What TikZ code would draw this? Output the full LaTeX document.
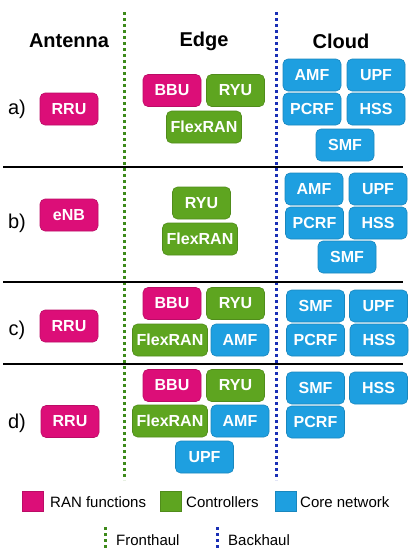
\documentclass[tikz,border=0pt]{standalone}
\usepackage{fontspec}
\setmainfont{Liberation Sans}
\definecolor{ran}{HTML}{DC0E78}
\definecolor{ctl}{HTML}{5EA520}
\definecolor{core}{HTML}{1E9FE0}
\definecolor{fh}{HTML}{3D8A1A}
\definecolor{bh}{HTML}{1A2FB5}
\tikzset{
  fn/.style={rounded corners=5pt, minimum height=32pt, minimum width=58pt, inner sep=0pt,
    text=white, font=\fontsize{16}{16}\selectfont\bfseries},
  ranbox/.style={fn, fill=ran, draw=ran!85!black, line width=0.6pt},
  ctlbox/.style={fn, fill=ctl, draw=ctl!85!black, line width=0.6pt},
  corebox/.style={fn, fill=core, draw=core!85!black, line width=0.6pt},
  wide/.style={minimum width=75pt},
  head/.style={font=\fontsize{20}{20}\selectfont\bfseries},
  rowlab/.style={font=\fontsize{20}{20}\selectfont},
  legtxt/.style={font=\fontsize{15}{15}\selectfont, anchor=west, inner sep=0pt},
  fhline/.style={draw=fh, line width=3pt, dash pattern=on 3pt off 3pt},
  bhline/.style={draw=bh, line width=3pt, dash pattern=on 3pt off 3pt},
  sep/.style={draw=black, line width=1.2pt},
  sq/.style={minimum width=21pt, minimum height=20pt, inner sep=0pt, line width=0.6pt}
}
\begin{document}
\begin{tikzpicture}[x=1pt,y=-1pt]
\useasboundingbox (0,0) rectangle (411,555);
% dividers
\coordinate (fht) at (124,12);
\coordinate (fhb) at (124,480);
\coordinate (bht) at (276,12);
\coordinate (bhb) at (276,480);
\draw[fhline] (fht) -- (fhb);
\draw[bhline] (bht) -- (bhb);
% separators
\coordinate (s1l) at (3,167); \coordinate (s1r) at (403,167);
\coordinate (s2l) at (3,282); \coordinate (s2r) at (403,282);
\coordinate (s3l) at (3,364); \coordinate (s3r) at (403,364);
\draw[sep] (s1l) -- (s1r);
\draw[sep] (s2l) -- (s2r);
\draw[sep] (s3l) -- (s3r);
% headers
\node[head] (hA) at (69,41) {Antenna};
\node[head] (hE) at (204,41) {Edge};
\node[head] (hC) at (341,41) {Cloud};
% row a
\node[rowlab] (la) at (17,109) {a)};
\node[ranbox] (aRRU) at (69,109) {RRU};
\node[ranbox] (aBBU) at (172,90.5) {BBU};
\node[ctlbox] (aRYU) at (235.5,90.5) {RYU};
\node[ctlbox,wide] (aFlex) at (204,127) {FlexRAN};
\node[corebox] (aAMF) at (312,75) {AMF};
\node[corebox] (aUPF) at (376,75) {UPF};
\node[corebox] (aPCRF) at (312,109) {PCRF};
\node[corebox] (aHSS) at (376,109) {HSS};
\node[corebox] (aSMF) at (345,145) {SMF};
% row b
\node[rowlab] (lb) at (17,223) {b)};
\node[ranbox] (bENB) at (69,215) {eNB};
\node[ctlbox] (bRYU) at (201.5,203) {RYU};
\node[ctlbox,wide] (bFlex) at (200,239) {FlexRAN};
\node[corebox] (bAMF) at (314,189) {AMF};
\node[corebox] (bUPF) at (378,189) {UPF};
\node[corebox] (bPCRF) at (314.5,223) {PCRF};
\node[corebox] (bHSS) at (378,223) {HSS};
\node[corebox] (bSMF) at (347,257) {SMF};
% row c
\node[rowlab] (lc) at (17,330) {c)};
\node[ranbox] (cRRU) at (69,326) {RRU};
\node[ranbox] (cBBU) at (172,303.5) {BBU};
\node[ctlbox] (cRYU) at (235.5,303.5) {RYU};
\node[ctlbox,wide] (cFlex) at (170,340) {FlexRAN};
\node[corebox] (cAMF) at (240,340) {AMF};
\node[corebox] (cSMF) at (315.5,306) {SMF};
\node[corebox] (cUPF) at (378.5,306) {UPF};
\node[corebox] (cPCRF) at (315.5,340) {PCRF};
\node[corebox] (cHSS) at (379,340) {HSS};
% row d
\node[rowlab] (ld) at (17,423) {d)};
\node[ranbox] (dRRU) at (70,421.5) {RRU};
\node[ranbox] (dBBU) at (172,385.5) {BBU};
\node[ctlbox] (dRYU) at (235.5,385.5) {RYU};
\node[ctlbox,wide] (dFlex) at (170,421) {FlexRAN};
\node[corebox] (dAMF) at (240,421) {AMF};
\node[corebox] (dUPF) at (204.5,457) {UPF};
\node[corebox] (dSMF) at (315.5,388) {SMF};
\node[corebox] (dHSS) at (378.5,388) {HSS};
\node[corebox] (dPCRF) at (315.5,422) {PCRF};
% legend
\node[sq, fill=ran, draw=ran!85!black] (kR) at (32.5,501) {};
\node[legtxt] (tR) at (50,502) {RAN functions};
\node[sq, fill=ctl, draw=ctl!85!black] (kC) at (170.5,501) {};
\node[legtxt] (tC) at (186,502) {Controllers};
\node[sq, fill=core, draw=core!85!black] (kN) at (285.5,501) {};
\node[legtxt] (tN) at (300,502) {Core network};
\coordinate (f1) at (105,527); \coordinate (f2) at (105,549);
\coordinate (b1) at (217,527); \coordinate (b2) at (217,549);
\draw[fhline] (f1) -- (f2);
\draw[bhline] (b1) -- (b2);
\node[legtxt] (tF) at (116,540) {Fronthaul};
\node[legtxt] (tB) at (228,540) {Backhaul};
\end{tikzpicture}
\end{document}
